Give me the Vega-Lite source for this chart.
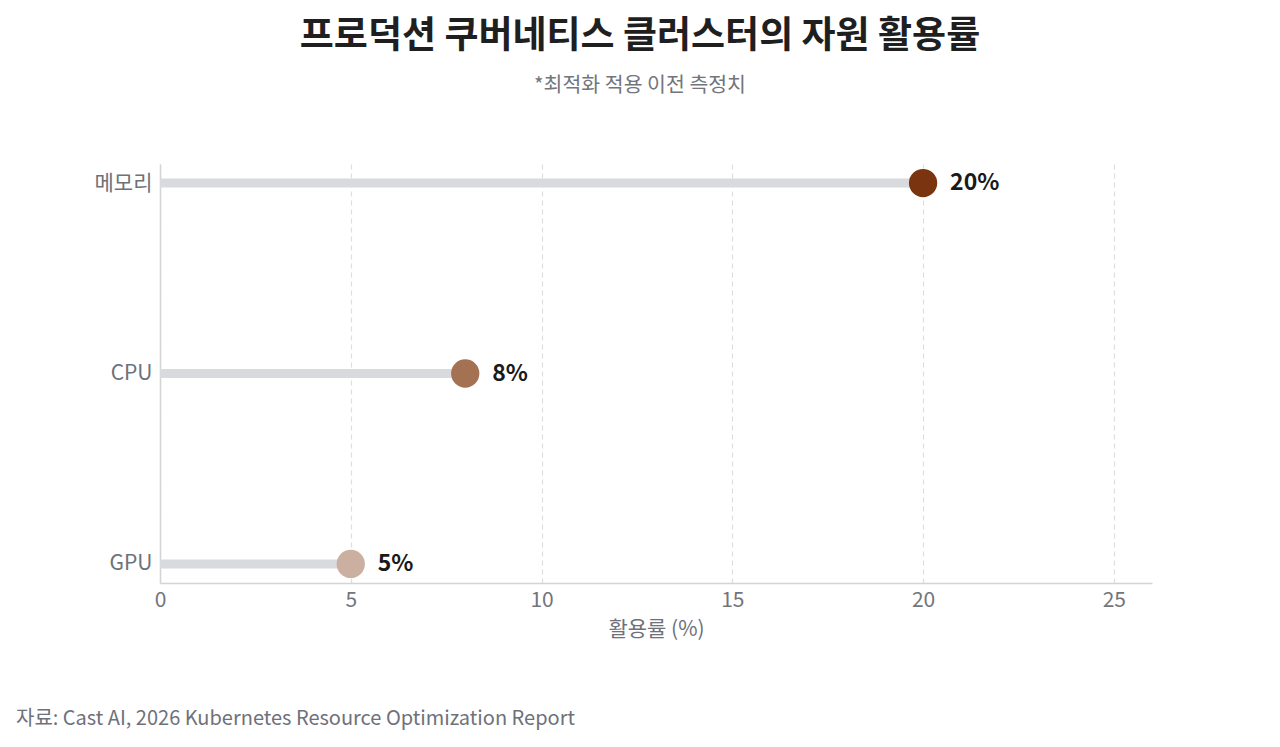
{
  "$schema": "https://vega.github.io/schema/vega-lite/v6.json",
  "autosize": {"type": "none"},
  "width": 992,
  "height": 419,
  "padding": {"left": 160, "top": 164, "right": 128, "bottom": 164},
  "background": "white",
  "title": {
    "text": "프로덕션 쿠버네티스 클러스터의 자원 활용률",
    "subtitle": "*최적화 적용 이전 측정치",
    "anchor": "middle",
    "dx": -16,
    "offset": 67,
    "fontSize": 37,
    "fontWeight": "bold",
    "color": "#1f1f1f",
    "subtitleFontSize": 20.5,
    "subtitleColor": "#72757c",
    "subtitlePadding": 20
  },
  "config": {
    "font": "Noto Sans CJK KR",
    "view": {"stroke": null}
  },
  "data": {
    "values": [
      {"resource": "메모리", "value": 20, "label": "20%"},
      {"resource": "CPU", "value": 8, "label": "8%"},
      {"resource": "GPU", "value": 5, "label": "5%"}
    ]
  },
  "encoding": {
    "y": {
      "field": "resource",
      "type": "nominal",
      "sort": ["메모리", "CPU", "GPU"],
      "scale": {"type": "point", "padding": 0.1},
      "axis": {
        "title": null,
        "ticks": false,
        "grid": false,
        "domainColor": "#d4d4d4",
        "domainWidth": 1.5,
        "labelFontSize": 21,
        "labelColor": "#6e717a",
        "labelPadding": 8
      }
    }
  },
  "layer": [
    {
      "mark": {"type": "rule", "strokeWidth": 9, "color": "#d9dadd"},
      "encoding": {
        "x": {
          "field": "value",
          "type": "quantitative",
          "scale": {"domain": [0, 26], "nice": false},
          "axis": {
            "title": "활용률 (%)",
            "values": [0, 5, 10, 15, 20, 25],
            "ticks": false,
            "grid": true,
            "gridDash": [5, 4],
            "gridColor": "#dedede",
            "gridWidth": 1.2,
            "domainColor": "#d4d4d4",
            "domainWidth": 1.5,
            "labelFlush": false,
            "labelFontSize": 21,
            "labelColor": "#72757c",
            "labelPadding": 6,
            "titleFontSize": 21,
            "titleFontWeight": "normal",
            "titleColor": "#6e717a",
            "titlePadding": 8
          }
        },
        "x2": {"datum": 0}
      }
    },
    {
      "mark": {"type": "circle", "size": 800, "opacity": 1},
      "encoding": {
        "x": {"field": "value", "type": "quantitative"},
        "color": {
          "field": "resource",
          "type": "nominal",
          "scale": {
            "domain": ["메모리", "CPU", "GPU"],
            "range": ["#7a3510", "#a47253", "#cbb0a1"]
          },
          "legend": null
        }
      }
    },
    {
      "mark": {
        "type": "text",
        "align": "left",
        "baseline": "middle",
        "dx": 27,
        "fontSize": 23,
        "fontWeight": "bold",
        "color": "#1a1a1a"
      },
      "encoding": {
        "x": {"field": "value", "type": "quantitative"},
        "text": {"field": "label"}
      }
    },
    {
      "data": {"values": [{"note": "자료: Cast AI, 2026 Kubernetes Resource Optimization Report"}]},
      "mark": {
        "type": "text",
        "align": "left",
        "baseline": "middle",
        "dx": -144,
        "dy": 155,
        "fontSize": 20,
        "color": "#6e717a"
      },
      "encoding": {
        "x": {"datum": 0, "type": "quantitative"},
        "y": {"datum": "GPU", "type": "nominal"},
        "text": {"field": "note"}
      }
    }
  ]
}
